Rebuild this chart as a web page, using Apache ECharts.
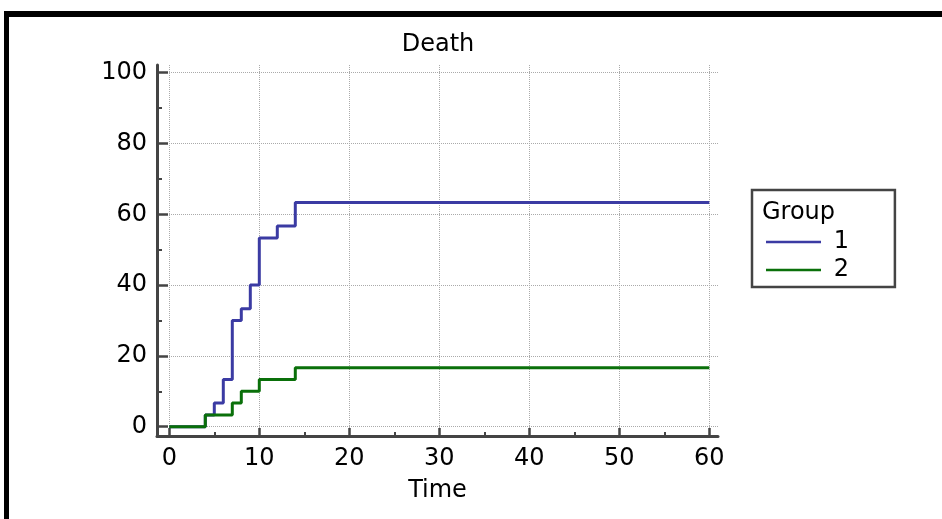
<!DOCTYPE html>
<html>
<head>
<meta charset="utf-8">
<script src="https://cdn.jsdelivr.net/npm/echarts@6/dist/echarts.min.js"></script>
<style>
  html, body { margin: 0; padding: 0; background: #ffffff; }
  #chart { position: absolute; left: 0; top: 0; width: 942px; height: 519px; }
  #frame { position: absolute; left: 4px; top: 11px; width: 940px; height: 510px;
           border-left: 5px solid #000; border-top: 6px solid #000; pointer-events: none; }
</style>
</head>
<body>
<div id="chart"></div>
<div id="frame"></div>
<script>
// ---- data ----
const group1Times  = [0, 4, 5, 6, 7, 8, 9, 10, 12, 14, 60];
const group1Values = [0, 3.33, 6.67, 13.33, 30, 33.33, 40, 53.33, 56.67, 63.33, 63.33];
const group2Times  = [0, 4, 7, 8, 10, 14, 60];
const group2Values = [0, 3.33, 6.67, 10, 13.33, 16.67, 16.67];
const xTickLabels  = [0, 10, 20, 30, 40, 50, 60];
const xMinorTicks  = [5, 15, 25, 35, 45, 55];
const yTickLabels  = [0, 20, 40, 60, 80, 100];
const yMinorTicks  = [10, 30, 50, 70, 90];
const seriesNames  = ['1', '2'];

const toPairs = (xs, ys) => xs.map((x, i) => [x, ys[i]]);

const FONT = 'DejaVu Sans';
const AX = '#444444';
const C1 = '#3b3ba3', C2 = '#0a700a';
const xMin = -1.367, xMax = 60.967, yMin = -2.627, yMax = 102.175;

const chart = echarts.init(document.getElementById('chart'), null, { renderer: 'canvas' });

const baseX = { type: 'value', gridIndex: 0, position: 'bottom', min: xMin, max: xMax };
const baseY = { type: 'value', gridIndex: 0, position: 'left', min: yMin, max: yMax };

chart.setOption({
  backgroundColor: '#ffffff',
  animation: false,
  title: [
    { text: 'Death', left: 438, top: 33, textAlign: 'center', padding: 0,
      textStyle: { fontFamily: FONT, fontSize: 24, fontWeight: 'normal', color: '#000' } },
    { text: 'Group', left: 762, top: 201, padding: 0,
      textStyle: { fontFamily: FONT, fontSize: 24, fontWeight: 'normal', color: '#000' } }
  ],
  grid: { left: 157, right: 224, top: 65, bottom: 83, containLabel: false },
  legend: {
    orient: 'vertical', left: 752, top: 190,
    padding: [40, 46, 5, 14],
    icon: 'rect',
    itemWidth: 55, itemHeight: 2.5, itemGap: 4,
    borderColor: AX, borderWidth: 2.5, backgroundColor: '#ffffff',
    formatter: ' {name}',
    textStyle: { fontFamily: FONT, fontSize: 24, color: '#000', lineHeight: 24 },
    data: [
      { name: seriesNames[0], itemStyle: { color: C1 } },
      { name: seriesNames[1], itemStyle: { color: C2 } }
    ]
  },
  xAxis: [
    Object.assign({}, baseX, {
      name: 'Time', nameLocation: 'middle', nameGap: 43,
      nameTextStyle: { fontFamily: FONT, fontSize: 24, color: '#000' },
      axisLine: { show: true, onZero: false, lineStyle: { color: AX, width: 3 } },
      axisTick: { show: true, inside: true, length: 8, customValues: xTickLabels,
                  lineStyle: { color: AX, width: 2.5 } },
      axisLabel: { show: true, customValues: xTickLabels, margin: 11,
                   fontFamily: FONT, fontSize: 24, color: '#000' },
      splitLine: { show: true, lineStyle: { color: '#aaaaaa', type: 'dotted', width: 1 } }
    }),
    Object.assign({}, baseX, {
      axisLine: { show: false, onZero: false },
      axisTick: { show: true, inside: true, length: 4, customValues: xMinorTicks,
                  lineStyle: { color: AX, width: 2 } },
      axisLabel: { show: false },
      splitLine: { show: false }
    })
  ],
  yAxis: [
    Object.assign({}, baseY, {
      axisLine: { show: true, onZero: false, lineStyle: { color: AX, width: 3 } },
      axisTick: { show: true, inside: true, length: 11, customValues: yTickLabels,
                  lineStyle: { color: AX, width: 2.5 } },
      axisLabel: { show: true, customValues: yTickLabels, margin: 10,
                   fontFamily: FONT, fontSize: 24, color: '#000' },
      splitLine: { show: true, lineStyle: { color: '#aaaaaa', type: 'dotted', width: 1 } }
    }),
    Object.assign({}, baseY, {
      axisLine: { show: false, onZero: false },
      axisTick: { show: true, inside: true, length: 5, customValues: yMinorTicks,
                  lineStyle: { color: AX, width: 2 } },
      axisLabel: { show: false },
      splitLine: { show: false }
    })
  ],
  series: [
    { name: seriesNames[0], type: 'line', step: 'end', symbol: 'none',
      xAxisIndex: 0, yAxisIndex: 0,
      lineStyle: { color: C1, width: 3 }, itemStyle: { color: C1 },
      data: toPairs(group1Times, group1Values) },
    { name: seriesNames[1], type: 'line', step: 'end', symbol: 'none',
      xAxisIndex: 0, yAxisIndex: 0,
      lineStyle: { color: C2, width: 3 }, itemStyle: { color: C2 },
      data: toPairs(group2Times, group2Values) }
  ]
});
</script>
</body>
</html>
